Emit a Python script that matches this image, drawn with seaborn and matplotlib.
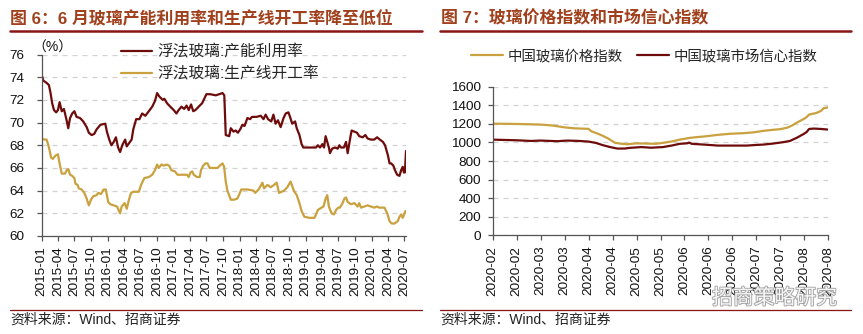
import matplotlib
matplotlib.use("Agg")
import matplotlib.pyplot as plt
import matplotlib.patheffects as pe
from matplotlib.lines import Line2D
import seaborn as sns
import pandas as pd

# ---------------- data ----------------
# Float glass: capacity utilisation (%)
util_dates = [
    "2015-01-01", "2015-01-10", "2015-01-28", "2015-02-10", "2015-02-19", "2015-02-28",
    "2015-03-10", "2015-03-22", "2015-04-01", "2015-04-10", "2015-04-22", "2015-05-04",
    "2015-05-19", "2015-05-28", "2015-06-07", "2015-06-19", "2015-07-01", "2015-07-13",
    "2015-08-01", "2015-08-19", "2015-09-07", "2015-09-19", "2015-10-04", "2015-10-19",
    "2015-11-01", "2015-11-22", "2015-12-19", "2015-12-28", "2016-01-10", "2016-01-22",
    "2016-02-04", "2016-02-16", "2016-02-28", "2016-03-10", "2016-03-22", "2016-04-07",
    "2016-04-16", "2016-05-04", "2016-05-13", "2016-05-22", "2016-06-07", "2016-06-25",
    "2016-07-10", "2016-07-28", "2016-08-16", "2016-09-04", "2016-09-19", "2016-10-01",
    "2016-10-13", "2016-11-01", "2016-11-10", "2016-11-25", "2016-12-13", "2017-01-01",
    "2017-01-16", "2017-01-28", "2017-02-13", "2017-02-28", "2017-03-13", "2017-03-25",
    "2017-04-07", "2017-04-19", "2017-05-01", "2017-05-19", "2017-06-07", "2017-06-19",
    "2017-07-01", "2017-07-22", "2017-08-22", "2017-09-10", "2017-09-28", "2017-10-08",
    "2017-10-16", "2017-11-04", "2017-11-13", "2017-11-28", "2017-12-10", "2017-12-22",
    "2018-01-04", "2018-01-16", "2018-01-28", "2018-02-13", "2018-02-28", "2018-03-10",
    "2018-04-04", "2018-04-28", "2018-05-13", "2018-05-25", "2018-06-07", "2018-06-25",
    "2018-07-07", "2018-07-19", "2018-08-01", "2018-08-16", "2018-09-01", "2018-09-13",
    "2018-09-28", "2018-10-07", "2018-10-19", "2018-11-04", "2018-11-13", "2018-11-28",
    "2018-12-10", "2018-12-19", "2019-01-13", "2019-02-10", "2019-02-28", "2019-03-10",
    "2019-03-22", "2019-04-04", "2019-04-13", "2019-04-22", "2019-05-01", "2019-05-10",
    "2019-05-16", "2019-05-28", "2019-06-13", "2019-06-28", "2019-07-07", "2019-07-16",
    "2019-08-01", "2019-08-13", "2019-08-22", "2019-09-07", "2019-09-13", "2019-09-28",
    "2019-10-13", "2019-10-25", "2019-11-13", "2019-11-28", "2019-12-10", "2019-12-28",
    "2020-01-16", "2020-02-01", "2020-02-16", "2020-03-04", "2020-03-16", "2020-04-01",
    "2020-04-10", "2020-04-19", "2020-05-01", "2020-05-10", "2020-05-22", "2020-06-04",
    "2020-06-13", "2020-06-22", "2020-06-28", "2020-07-04", "2020-07-10",
]
util_vals = [
    74.2, 73.7, 73.5, 73.3, 72.6, 71.7,
    71.1, 70.9, 71.1, 71.8, 71.0, 71.2,
    70.2, 69.5, 70.4, 70.8, 71.0, 70.5,
    70.4, 70.1, 69.6, 69.1, 68.9, 69.0,
    69.4, 69.8, 69.9, 69.2, 68.5, 68.0,
    68.3, 68.7, 67.8, 67.4, 68.0, 68.5,
    67.9, 68.3, 68.5, 69.4, 70.3, 70.3,
    70.8, 70.6, 71.0, 71.4, 71.9, 72.6,
    72.3, 72.0, 72.1, 71.7, 71.4, 71.1,
    70.8, 71.1, 71.4, 71.2, 71.5, 71.1,
    71.6, 71.0, 71.1, 71.4, 71.7, 72.1,
    72.5, 72.5, 72.4, 72.5, 72.6, 72.4,
    68.9, 68.8, 69.5, 69.2, 69.3, 69.1,
    69.4, 69.8, 69.7, 70.4, 70.3, 70.5,
    70.5, 70.6, 70.3, 70.7, 70.3, 70.1,
    70.7, 69.9, 70.2, 69.6, 70.4, 70.8,
    70.9, 70.5, 69.9, 70.1, 69.5, 68.9,
    68.1, 67.8, 67.8, 67.8, 67.8, 68.0,
    67.8, 68.1, 67.8, 68.8, 68.3, 67.8,
    67.3, 67.7, 67.8, 67.7, 68.0, 67.8,
    67.8, 68.3, 67.3, 68.8, 69.3, 69.2,
    69.1, 68.8, 68.7, 68.9, 68.6, 68.5,
    68.5, 68.7, 68.5, 68.3, 68.0, 67.1,
    66.4, 66.4, 66.2, 65.8, 65.4, 65.3,
    65.8, 66.1, 65.6, 65.6, 67.5,
]

# Float glass: production line operating rate (%)
oper_dates = [
    "2015-01-01", "2015-01-16", "2015-01-28", "2015-02-07", "2015-02-16", "2015-02-22",
    "2015-03-04", "2015-03-19", "2015-04-01", "2015-04-10", "2015-04-22", "2015-05-10",
    "2015-05-19", "2015-05-28", "2015-06-07", "2015-06-19", "2015-07-01", "2015-07-07",
    "2015-07-19", "2015-07-25", "2015-08-10", "2015-08-25", "2015-09-07", "2015-09-19",
    "2015-10-01", "2015-10-13", "2015-11-01", "2015-11-10", "2015-11-25", "2015-12-10",
    "2015-12-22", "2016-01-04", "2016-01-16", "2016-02-04", "2016-02-22", "2016-03-10",
    "2016-03-19", "2016-04-04", "2016-04-16", "2016-04-28", "2016-05-10", "2016-05-22",
    "2016-06-22", "2016-07-04", "2016-07-22", "2016-08-16", "2016-09-04", "2016-09-19",
    "2016-10-01", "2016-10-10", "2016-10-25", "2016-11-07", "2016-11-22", "2016-12-07",
    "2016-12-19", "2017-01-07", "2017-01-22", "2017-02-19", "2017-03-16", "2017-03-25",
    "2017-04-04", "2017-04-13", "2017-04-22", "2017-05-10", "2017-05-25", "2017-06-01",
    "2017-06-13", "2017-06-25", "2017-07-07", "2017-07-19", "2017-08-10", "2017-09-01",
    "2017-09-13", "2017-09-28", "2017-10-07", "2017-10-16", "2017-10-25", "2017-11-04",
    "2017-11-13", "2017-12-01", "2017-12-19", "2017-12-28", "2018-01-10", "2018-02-13",
    "2018-03-19", "2018-03-28", "2018-04-16", "2018-05-07", "2018-05-16", "2018-06-04",
    "2018-06-22", "2018-07-10", "2018-07-25", "2018-08-07", "2018-09-04", "2018-09-22",
    "2018-10-10", "2018-10-28", "2018-11-13", "2018-11-28", "2018-12-10", "2018-12-25",
    "2019-01-22", "2019-02-19", "2019-02-28", "2019-03-10", "2019-03-25", "2019-04-10",
    "2019-04-22", "2019-05-01", "2019-05-10", "2019-05-25", "2019-06-07", "2019-06-19",
    "2019-07-01", "2019-07-10", "2019-07-25", "2019-08-04", "2019-08-13", "2019-08-22",
    "2019-09-10", "2019-09-28", "2019-10-16", "2019-10-25", "2019-11-04", "2019-11-22",
    "2019-12-10", "2019-12-28", "2020-01-16", "2020-02-01", "2020-02-13", "2020-03-13",
    "2020-03-28", "2020-04-10", "2020-04-22", "2020-05-07", "2020-05-25", "2020-06-04",
    "2020-06-13", "2020-06-22", "2020-07-07",
]
oper_vals = [
    68.6, 68.5, 68.5, 68.0, 67.4, 66.9,
    66.8, 67.1, 67.2, 66.4, 65.5, 65.5,
    65.8, 65.9, 65.4, 65.3, 65.1, 64.6,
    64.5, 64.2, 64.1, 63.8, 63.3, 62.7,
    63.2, 63.5, 63.6, 63.8, 63.7, 64.1,
    64.1, 63.0, 62.8, 62.7, 62.6, 62.0,
    62.6, 62.9, 62.4, 63.2, 63.8, 63.9,
    63.9, 64.5, 65.1, 65.2, 65.4, 65.8,
    66.3, 66.0, 66.3, 66.2, 66.3, 66.2,
    65.8, 65.7, 65.4, 65.4, 65.4, 65.2,
    65.6, 65.7, 65.4, 65.2, 65.2, 65.8,
    66.2, 66.4, 66.4, 66.0, 66.0, 66.0,
    66.2, 66.4, 66.1, 64.8, 64.0, 63.6,
    63.2, 63.2, 63.3, 63.6, 64.1, 64.1,
    64.0, 63.8, 64.1, 64.7, 64.2, 64.5,
    64.3, 64.5, 64.7, 63.8, 64.0, 64.3,
    64.8, 64.0, 63.6, 62.9, 62.2, 61.7,
    61.6, 61.6, 61.9, 62.3, 62.45, 62.6,
    63.3, 63.6, 62.6, 62.0, 61.9, 62.3,
    62.5, 62.5, 62.9, 63.3, 63.4, 63.0,
    62.8, 62.9, 62.6, 62.9, 62.5, 62.6,
    62.7, 62.6, 62.5, 62.6, 62.5, 62.5,
    62.0, 61.3, 61.1, 61.1, 61.3, 61.7,
    61.9, 61.6, 62.2,
]

left_ticks = [
    "2015-01", "2015-04", "2015-07", "2015-10", "2016-01", "2016-04", "2016-07",
    "2016-10", "2017-01", "2017-04", "2017-07", "2017-10", "2018-01", "2018-04",
    "2018-07", "2018-10", "2019-01", "2019-04", "2019-07", "2019-10", "2020-01",
    "2020-04", "2020-07",
]

# China glass indices, by trading day since early Feb 2020
price_day = [0, 10, 20, 25, 30, 34, 40, 41, 45, 48, 51, 53, 56, 60, 64, 68, 71, 75, 78,
             82, 85, 89, 94, 99, 105, 109, 113, 117, 120, 123, 125, 127, 130, 131, 132,
             135, 137, 138, 140]
price_val = [1202, 1199, 1192, 1182, 1162, 1152, 1146, 1122, 1082, 1045, 996, 988, 980,
             990, 988, 985, 995, 1012, 1030, 1048, 1057, 1066, 1082, 1093, 1100, 1109,
             1125, 1136, 1143, 1160, 1184, 1215, 1256, 1274, 1300, 1317, 1340, 1368, 1377]

conf_day = [0, 10, 16, 20, 27, 31, 36, 40, 43, 46, 49, 52, 55, 57, 62, 66, 71, 75, 78, 81,
            82, 83, 88, 94, 99, 106, 110, 113, 117, 121, 124, 127, 130, 131, 132, 134,
            137, 140]
conf_val = [1030, 1023, 1016, 1020, 1013, 1020, 1016, 1009, 995, 970, 950, 934, 934, 941,
            950, 943, 950, 968, 985, 990, 998, 985, 977, 966, 966, 966, 973, 977, 988,
            1002, 1016, 1052, 1095, 1113, 1145, 1149, 1145, 1138]

right_ticks = ["2020-02", "2020-02", "2020-03", "2020-03", "2020-04", "2020-04", "2020-05",
               "2020-05", "2020-06", "2020-06", "2020-06", "2020-07", "2020-07", "2020-08",
               "2020-08"]

# ---------------- style ----------------
sns.set_theme(style="white")
plt.rcParams["font.family"] = ["Liberation Sans", "Noto Sans CJK SC"]
plt.rcParams["axes.unicode_minus"] = False

RED = "#6E0B0B"
GOLD = "#C9A13E"
TITLE = "#A0401C"
RULE = "#8B1414"
GRID = "#D2D2D2"
AXIS = "#555555"

W, H = 863, 334
fig = plt.figure(figsize=(W / 100, H / 100), dpi=100)


def fx(px):
    return px / W


def fy(py):
    return 1 - py / H


def style_axes(ax, ypad):
    ax.set_xlabel("")
    ax.set_ylabel("")
    for s in ("top", "right"):
        ax.spines[s].set_visible(False)
    for s in ("left", "bottom"):
        ax.spines[s].set_color(AXIS)
        ax.spines[s].set_linewidth(0.9)
    ax.yaxis.grid(True, linestyle=(0, (4, 4)), color=GRID, linewidth=0.9)
    ax.xaxis.grid(False)
    ax.tick_params(axis="both", direction="out", length=3.5, width=0.9, color=AXIS,
                   labelsize=9.7, labelcolor="#111111", bottom=True, left=True)
    ax.tick_params(axis="y", pad=ypad)
    ax.tick_params(axis="x", pad=4)


# ---------------- left panel ----------------
axL = fig.add_axes([fx(41.7), fy(236), (406 - 41.7) / W, (236 - 54.5) / H])
df_util = pd.DataFrame({"date": pd.to_datetime(util_dates), "value": util_vals})
df_oper = pd.DataFrame({"date": pd.to_datetime(oper_dates), "value": oper_vals})
sns.lineplot(data=df_util, x="date", y="value", ax=axL, color=RED, linewidth=1.6,
             label="浮法玻璃:产能利用率")
sns.lineplot(data=df_oper, x="date", y="value", ax=axL, color=GOLD, linewidth=1.6,
             label="浮法玻璃:生产线开工率")
axL.set_ylim(60, 76)
axL.set_yticks(range(60, 77, 2))
axL.set_xlim(pd.Timestamp("2015-01-01"), pd.Timestamp("2020-07-10"))
axL.set_xticks(pd.to_datetime(left_ticks))
axL.set_xticklabels(left_ticks, rotation=90)
style_axes(axL, ypad=9)
axL.legend(loc="upper left", bbox_to_anchor=(fx(121), fy(44)), bbox_transform=fig.transFigure,
           frameon=False, fontsize=11.3, handlelength=2.0, handletextpad=0.35,
           labelspacing=0.45, borderpad=0, borderaxespad=0)
fig.text(fx(32), fy(48), "（%）", fontsize=10, va="center", ha="left", color="#111111")

# ---------------- right panel ----------------
axR = fig.add_axes([fx(492.7), fy(235.3), (828.3 - 492.7) / W, (235.3 - 86.7) / H])
df_price = pd.DataFrame({"day": price_day, "value": price_val})
df_conf = pd.DataFrame({"day": conf_day, "value": conf_val})
sns.lineplot(data=df_price, x="day", y="value", ax=axR, color=GOLD, linewidth=1.6,
             label="中国玻璃价格指数")
sns.lineplot(data=df_conf, x="day", y="value", ax=axR, color=RED, linewidth=1.6,
             label="中国玻璃市场信心指数")
axR.set_ylim(0, 1600)
axR.set_yticks(range(0, 1601, 200))
axR.set_xlim(0, 140)
axR.set_xticks(range(0, 141, 10))
axR.set_xticklabels(right_ticks, rotation=90)
style_axes(axR, ypad=5)
axR.legend(loc="center left", bbox_to_anchor=(fx(471), fy(56)), bbox_transform=fig.transFigure,
           ncol=2, frameon=False, fontsize=10.4, handlelength=2.2, handletextpad=0.35,
           columnspacing=1.0, borderpad=0, borderaxespad=0)

# ---------------- titles, rules and sources ----------------
fig.text(fx(10), fy(18), "图 6：6 月玻璃产能利用率和生产线开工率降至低位", fontsize=12.2,
         fontweight="bold", color=TITLE, va="center", ha="left")
fig.text(fx(441), fy(18), "图 7：玻璃价格指数和市场信心指数", fontsize=12.2,
         fontweight="bold", color=TITLE, va="center", ha="left")

for x0, x1 in ((10, 422), (440, 851)):
    fig.add_artist(Line2D([fx(x0), fx(x1)], [fy(31), fy(31)], color=RULE, linewidth=1.8))
    fig.add_artist(Line2D([fx(x0), fx(x1)], [fy(309.5), fy(309.5)], color=RULE, linewidth=0.9))

fig.text(fx(10), fy(320), "资料来源：Wind、招商证券", fontsize=10, color="#222222",
         va="center", ha="left")
fig.text(fx(440), fy(320), "资料来源：Wind、招商证券", fontsize=10, color="#222222",
         va="center", ha="left")

# account watermark, drawn over the lower-right corner of the right panel
fig.text(fx(712), fy(298), "招商策略研究", fontsize=15, color="white", va="center", ha="left",
         alpha=0.9, path_effects=[pe.withStroke(linewidth=1.3, foreground="#9a9a9a")])

fig.savefig("out.png", dpi=100)
